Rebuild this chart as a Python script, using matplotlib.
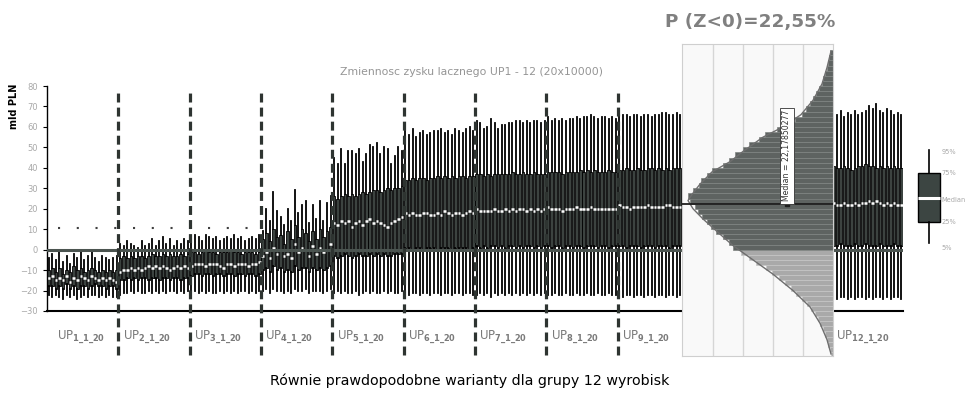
import numpy as np
import matplotlib.pyplot as plt

# Zmiennosc zysku lacznego - percentyle dla 20 wariantow w kazdej grupie UP (mld PLN)
# UP10 i UP11 sa zasloniete przez histogram, wiec ich nie ma
group_names = ["1", "2", "3", "4", "5", "6", "7", "8", "9", "12"]
group_pos = [0, 1, 2, 3, 4, 5, 6, 7, 8, 11]

p95 = [
    [-4, -2, -5, -1, -6, -3, -7, -2, -4, -1, -5, -3, -1, -4, -6, -3, -4, -5, -4, -3],
    [3, 2, 4, 3, 2, 1, 4, 2, 3, 5, 2, 4, 6, 3, 5, 2, 4, 3, 5, 4],
    [5, 7, 6, 4, 7, 6, 5, 6, 4, 5, 6, 5, 7, 5, 6, 4, 5, 6, 5, 7],
    [9, 20, 14, 28, 19, 16, 12, 20, 14, 29, 18, 22, 24, 13, 22, 15, 24, 14, 23, 26],
    [45, 42, 49, 42, 48, 48, 47, 49, 43, 47, 51, 50, 52, 47, 50, 49, 42, 46, 50, 48],
    [58, 56, 59, 55, 57, 58, 56, 57, 58, 58, 59, 57, 58, 56, 59, 58, 57, 59, 60, 58],
    [63, 62, 59, 60, 64, 62, 59, 61, 61, 62, 62, 63, 63, 62, 63, 62, 63, 63, 62, 63],
    [65, 63, 64, 63, 64, 63, 64, 64, 65, 64, 65, 65, 66, 65, 64, 65, 65, 64, 65, 64],
    [67, 66, 66, 65, 66, 66, 65, 66, 66, 65, 66, 66, 67, 67, 66, 66, 67, 66, 66, 66],
    [67, 66, 68, 65, 67, 66, 68, 66, 67, 68, 70, 69, 71, 68, 67, 69, 68, 66, 67, 66],
]
p75 = [
    [-10, -9, -11, -9, -12, -10, -11, -8, -10, -9, -11, -10, -9, -10, -11, -10, -11, -10, -11, -10],
    [-4, -3, -4, -3, -4, -3, -3, -4, -3, -2, -3, -3, -2, -3, -2, -3, -3, -2, -3, -2],
    [-1, -1, -2, -1, 0, -1, -1, -2, -1, -1, -1, 0, -1, -1, -2, -1, -1, -1, -2, -1],
    [5, 8, 4, 10, 6, 7, 3, 9, 5, 12, 6, 10, 8, 4, 9, 5, 10, 6, 9, 11],
    [26, 25, 26, 27, 26, 27, 26, 27, 28, 27, 28, 29, 29, 28, 29, 30, 29, 30, 30, 31],
    [34, 34, 35, 34, 35, 35, 34, 35, 35, 36, 35, 36, 35, 36, 35, 36, 36, 35, 36, 36],
    [37, 37, 36, 37, 36, 37, 37, 37, 37, 37, 38, 37, 37, 38, 37, 37, 38, 37, 37, 37],
    [38, 38, 38, 38, 37, 38, 38, 38, 38, 39, 38, 39, 38, 39, 38, 38, 38, 39, 38, 38],
    [39, 39, 40, 39, 39, 40, 39, 39, 40, 40, 39, 40, 39, 40, 39, 40, 40, 40, 39, 39],
    [41, 40, 40, 41, 40, 39, 40, 41, 41, 42, 41, 41, 40, 41, 40, 41, 40, 41, 40, 40],
]
p50 = [
    [-14, -13, -15, -14, -15, -13, -16, -14, -15, -13, -14, -15, -13, -14, -15, -14, -15, -14, -15, -16],
    [-11, -10, -10, -9, -10, -9, -10, -9, -8, -9, -8, -9, -8, -9, -10, -9, -8, -9, -8, -9],
    [-8, -7, -7, -7, -8, -7, -7, -7, -8, -9, -7, -7, -8, -7, -7, -7, -8, -7, -7, -6],
    [-3, -1, -4, 1, -2, 0, -3, -2, -4, 3, -1, 1, 0, -3, 2, -2, 1, -1, 0, 3],
    [13, 12, 14, 13, 14, 11, 13, 14, 12, 14, 15, 13, 14, 13, 12, 11, 13, 14, 15, 16],
    [18, 17, 18, 17, 17, 18, 18, 17, 17, 18, 17, 19, 18, 17, 18, 18, 17, 18, 19, 18],
    [20, 19, 19, 19, 19, 20, 19, 19, 20, 19, 20, 19, 20, 20, 19, 20, 19, 20, 19, 20],
    [21, 20, 20, 20, 19, 20, 20, 20, 21, 20, 20, 20, 21, 20, 20, 20, 20, 20, 20, 20],
    [22, 21, 21, 20, 21, 21, 21, 21, 22, 21, 21, 21, 21, 22, 22, 21, 21, 21, 21, 21],
    [23, 22, 22, 23, 22, 22, 23, 22, 23, 23, 24, 23, 24, 23, 22, 23, 22, 23, 22, 22],
]
p25 = [
    [-18, -18, -19, -18, -19, -17, -19, -18, -19, -18, -18, -19, -18, -17, -18, -18, -19, -18, -18, -19],
    [-15, -15, -14, -15, -14, -15, -14, -14, -15, -14, -14, -15, -14, -14, -15, -14, -14, -15, -14, -14],
    [-13, -12, -12, -13, -12, -12, -13, -12, -12, -13, -12, -12, -13, -12, -12, -13, -12, -12, -13, -12],
    [-10, -9, -11, -8, -10, -9, -11, -10, -11, -8, -10, -9, -9, -11, -9, -10, -9, -10, -9, -8],
    [-3, -4, -3, -2, -3, -4, -3, -2, -3, -3, -2, -3, -2, -3, -2, -3, -3, -2, -2, -2],
    [1, 1, 0, 1, 1, 0, 1, 1, 1, 0, 1, 1, 1, 0, 1, 1, 1, 1, 0, 1],
    [2, 1, 2, 1, 2, 2, 1, 2, 1, 2, 2, 1, 2, 1, 2, 2, 1, 2, 1, 2],
    [2, 1, 2, 2, 1, 2, 2, 1, 2, 2, 1, 2, 2, 2, 1, 2, 2, 1, 2, 2],
    [2, 2, 1, 2, 2, 2, 1, 2, 2, 2, 1, 2, 2, 2, 1, 2, 2, 2, 1, 2],
    [2, 2, 3, 2, 2, 2, 3, 2, 2, 3, 2, 2, 2, 3, 2, 2, 2, 3, 2, 2],
]
p05 = [
    [-22, -23, -22, -23, -24, -22, -23, -22, -24, -23, -22, -23, -22, -22, -23, -22, -23, -22, -23, -23],
    [-22, -21, -21, -20, -21, -20, -21, -21, -20, -21, -20, -21, -20, -21, -20, -20, -21, -20, -21, -20],
    [-21, -20, -21, -20, -21, -20, -21, -21, -20, -21, -20, -21, -20, -21, -20, -20, -21, -20, -21, -20],
    [-20, -19, -21, -19, -20, -20, -21, -20, -21, -19, -20, -20, -19, -21, -20, -20, -20, -21, -20, -19],
    [-21, -20, -21, -20, -21, -21, -20, -22, -21, -20, -21, -20, -21, -21, -20, -21, -20, -21, -21, -20],
    [-21, -22, -21, -21, -22, -21, -21, -22, -21, -21, -22, -21, -21, -22, -21, -21, -22, -21, -21, -22],
    [-22, -21, -22, -21, -23, -21, -22, -21, -22, -21, -22, -21, -22, -21, -22, -21, -22, -21, -22, -21],
    [-22, -22, -21, -22, -22, -21, -22, -22, -21, -22, -22, -21, -22, -22, -21, -22, -22, -21, -22, -22],
    [-22, -23, -22, -22, -23, -22, -22, -23, -22, -22, -23, -22, -22, -23, -22, -22, -23, -22, -22, -23],
    [-23, -24, -23, -23, -24, -23, -24, -23, -23, -24, -23, -24, -23, -23, -24, -23, -24, -23, -23, -24],
]

# prog (linia kropkowana) dla pierwszych grup
threshold = 10.5
threshold_from, threshold_to = 3, 58

# histogram zysku UP12 (dlugosci slupkow), przedzialy co 2.5
hist_edges = np.arange(-52.5, 100.0, 2.5)
hist_counts = [2, 3, 5, 6, 8, 10, 13, 15, 18, 22, 26, 31, 37, 42, 48, 54, 61, 67, 77, 84,
               92, 100, 104, 110, 117, 122, 126, 131, 135, 138, 143, 145, 140, 134, 132, 126, 121, 110, 104, 98,
               90, 84, 74, 68, 56, 50, 38, 31, 27, 23, 20, 17, 14, 11, 10, 8, 6, 5, 4, 3]
curve_v = [97, 89, 81, 73, 66, 60, 55, 48, 43, 38, 32, 27, 24, 20, 15, 8, 2, -5, -12, -20, -28, -36, -44, -51]
curve_n = [2, 6, 11, 20, 32, 50, 70, 90, 103, 121, 133, 141, 145, 140, 130, 114, 100, 80, 60, 40, 23, 13, 6, 2]
median_all = 22.1785
p_loss = "22,55"

# ---- rysunek
fig = plt.figure(figsize=(9.66, 4.01), dpi=100)
ax = fig.add_axes([47/966, 90/401, 856/966, 225/401])

stats = []
pos = []
for g, gi in enumerate(group_pos):
    for k in range(20):
        stats.append(dict(med=p50[g][k], q1=p25[g][k], q3=p75[g][k],
                          whislo=p05[g][k], whishi=p95[g][k], fliers=[]))
        pos.append(gi*20 + k + 0.5)

ax.bxp(stats, positions=pos, widths=0.72, patch_artist=True, showcaps=False,
       manage_ticks=False,
       boxprops=dict(facecolor='#3c4340', edgecolor='black', linewidth=0.6),
       whiskerprops=dict(color='black', linewidth=1.3),
       medianprops=dict(color='white', linewidth=1.8))

ax.axhline(0, color='#4b5450', lw=2.2, zorder=5)
ax.hlines(threshold, threshold_from, threshold_to, colors='#404040', lw=1.5,
          linestyles=(0, (1, 8)), zorder=5)

# granice grup
for gi in range(1, 9):
    ax.vlines(gi*20, -51.5, 79, colors='#2e3431', lw=2.3, linestyles=(0, (2.8, 1.6)),
              clip_on=False, zorder=6)

for g, gi in enumerate(group_pos):
    off = 2.8 if gi == 0 else 1.2
    ax.text(gi*20 + off, -43, r"UP$_{\mathbf{%s\_1\_20}}$" % group_names[g], color='#7a7a7a',
            fontsize=8.5, ha='left', va='center', clip_on=False)

ax.set_xlim(0, 240)
ax.set_ylim(-30, 80)
ax.set_yticks(np.arange(-30, 81, 10))
ax.set_xticks([])
ax.tick_params(axis='y', labelsize=6, labelcolor='#a8a8a8', length=3, width=0.8)
for s in ['top', 'right']:
    ax.spines[s].set_visible(False)
ax.spines['left'].set_linewidth(1.0)
ax.spines['bottom'].set_linewidth(1.5)

# ---- histogram
ppu = 225 / 110
hx = fig.add_axes([682/966, 45/401, 151/966, 312/401])
hx.set_facecolor('#f9f9f9')
centers = (hist_edges[:-1] + hist_edges[1:]) / 2
cols = ['#5e6361' if c > 0 else '#a9a9a9' for c in centers]
ecols = ['#7f8482' if c > 0 else '#c6c6c6' for c in centers]
hx.barh(centers, hist_counts, height=2.5, left=0, color=cols, edgecolor=ecols, linewidth=0.5, zorder=2)
hx.plot(curve_n, curve_v, color='#6e6e6e', lw=1.0, zorder=3)
for gx in [30, 60, 90, 120]:
    hx.axvline(gx, color='#d6d6d6', lw=1.0, zorder=1)
hx.axhline(median_all, color='#1e1e1e', lw=1.3, zorder=4)
hx.plot([46], [median_all], marker='s', ms=2.5, color='#1e1e1e', zorder=5)
hx.text(46, median_all + 1.5, "Median = 22,17850277", rotation=90, fontsize=5.6,
        ha='center', va='bottom', color='#333333', zorder=6,
        bbox=dict(boxstyle='square,pad=0.3', fc='white', ec='#333333', lw=0.6))
hx.set_xlim(151, 0)
hx.set_ylim(-30 - 45/ppu, -30 + 267/ppu)
hx.set_xticks([])
hx.set_yticks([])
for s in hx.spines.values():
    s.set_color('#cfcfcf')
    s.set_linewidth(0.8)

# ---- legenda
lx = fig.add_axes([905/966, 146/401, 61/966, 115/401])
lx.axis('off')
lx.set_xlim(0, 1)
lx.set_ylim(0, 1)
lx.bxp([dict(med=0.496, q1=0.287, q3=0.713, whislo=0.104, whishi=0.913, fliers=[])],
       positions=[0.393], widths=0.36, patch_artist=True, showcaps=False, manage_ticks=False,
       boxprops=dict(facecolor='#3c4542', edgecolor='black', linewidth=1.0),
       whiskerprops=dict(color='black', linewidth=1.2),
       medianprops=dict(color='white', linewidth=2.2))
for lab, yy in zip(["95%", "75%", "Median", "25%", "5%"], [0.896, 0.713, 0.478, 0.287, 0.061]):
    lx.text(0.6, yy, lab, fontsize=4.8, color='#a8a8a8', va='center', ha='left')

# ---- teksty
fig.text(0.777, 0.945, "P (Z<0)=%s%%" % p_loss, fontsize=13.2, fontweight='bold',
         color='#808080', ha='center', va='center')
fig.text(0.4886, 0.8204, "Zmiennosc zysku lacznego UP1 - 12 (20x10000)", fontsize=7.8,
         color='#959595', ha='center', va='center')
fig.text(14/966, (401-106)/401, "mld PLN", rotation=90, fontsize=7, fontweight='bold',
         ha='center', va='center')
fig.text(0.4865, 0.05, "Równie prawdopodobne warianty dla grupy 12 wyrobisk", fontsize=10.3,
         ha='center', va='center')

fig.savefig('out.png', dpi=100)
